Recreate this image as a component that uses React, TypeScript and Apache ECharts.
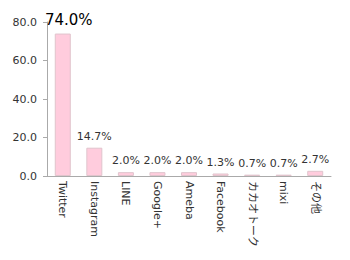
import React, { useEffect, useRef } from "react";
import * as echarts from "echarts";

const categories = ["Twitter", "Instagram", "LINE", "Google+", "Ameba", "Facebook", "カカオトーク", "mixi", "その他"];
const values = [74.0, 14.7, 2.0, 2.0, 2.0, 1.3, 0.7, 0.7, 2.7];
const yTicks = [0, 20, 40, 60, 80];

export default function App() {
  const ref = useRef<HTMLDivElement>(null);
  useEffect(() => {
    const chart = echarts.init(ref.current!, null, { renderer: "svg" });
    const font = "Verdana, 'DejaVu Sans', 'Noto Sans CJK JP', sans-serif";
    chart.setOption({
      animation: false,
      grid: { left: 39, right: 11, top: 14, bottom: 76 },
      xAxis: {
        type: "category",
        data: categories,
        axisLine: { lineStyle: { color: "#aaa" } },
        axisTick: { lineStyle: { color: "#aaa" } },
        axisLabel: {
          rotate: -90,
          color: "#333",
          fontSize: 11,
          fontFamily: font,
          margin: 5,
          interval: 0,
        },
      },
      yAxis: {
        type: "value",
        min: yTicks[0],
        max: yTicks[yTicks.length - 1],
        interval: 20,
        splitLine: { show: false },
        axisLine: { show: true, lineStyle: { color: "#aaa" } },
        axisTick: { show: true, length: 4, lineStyle: { color: "#aaa" } },
        axisLabel: { color: "#333", fontSize: 11, fontFamily: font, formatter: (v: number) => v.toFixed(1), margin: 10 },
      },
      series: [
        {
          type: "bar",
          data: values.map((v, i) =>
            i === 0
              ? { value: v, label: { fontSize: 15, color: "#000", offset: [6, 0] } }
              : v
          ),
          barWidth: 16,
          itemStyle: { color: "#ffccdd", borderColor: "#e0c4cc", borderWidth: 1 },
          label: {
            show: true,
            position: "top",
            distance: 6,
            color: "#333",
            fontSize: 11,
            fontFamily: font,
            formatter: (p: any) => p.value.toFixed(1) + "%",
          },
        },
      ],
    });
    return () => chart.dispose();
  }, []);
  return <div ref={ref} style={{ width: 334, height: 244 }} />;
}
